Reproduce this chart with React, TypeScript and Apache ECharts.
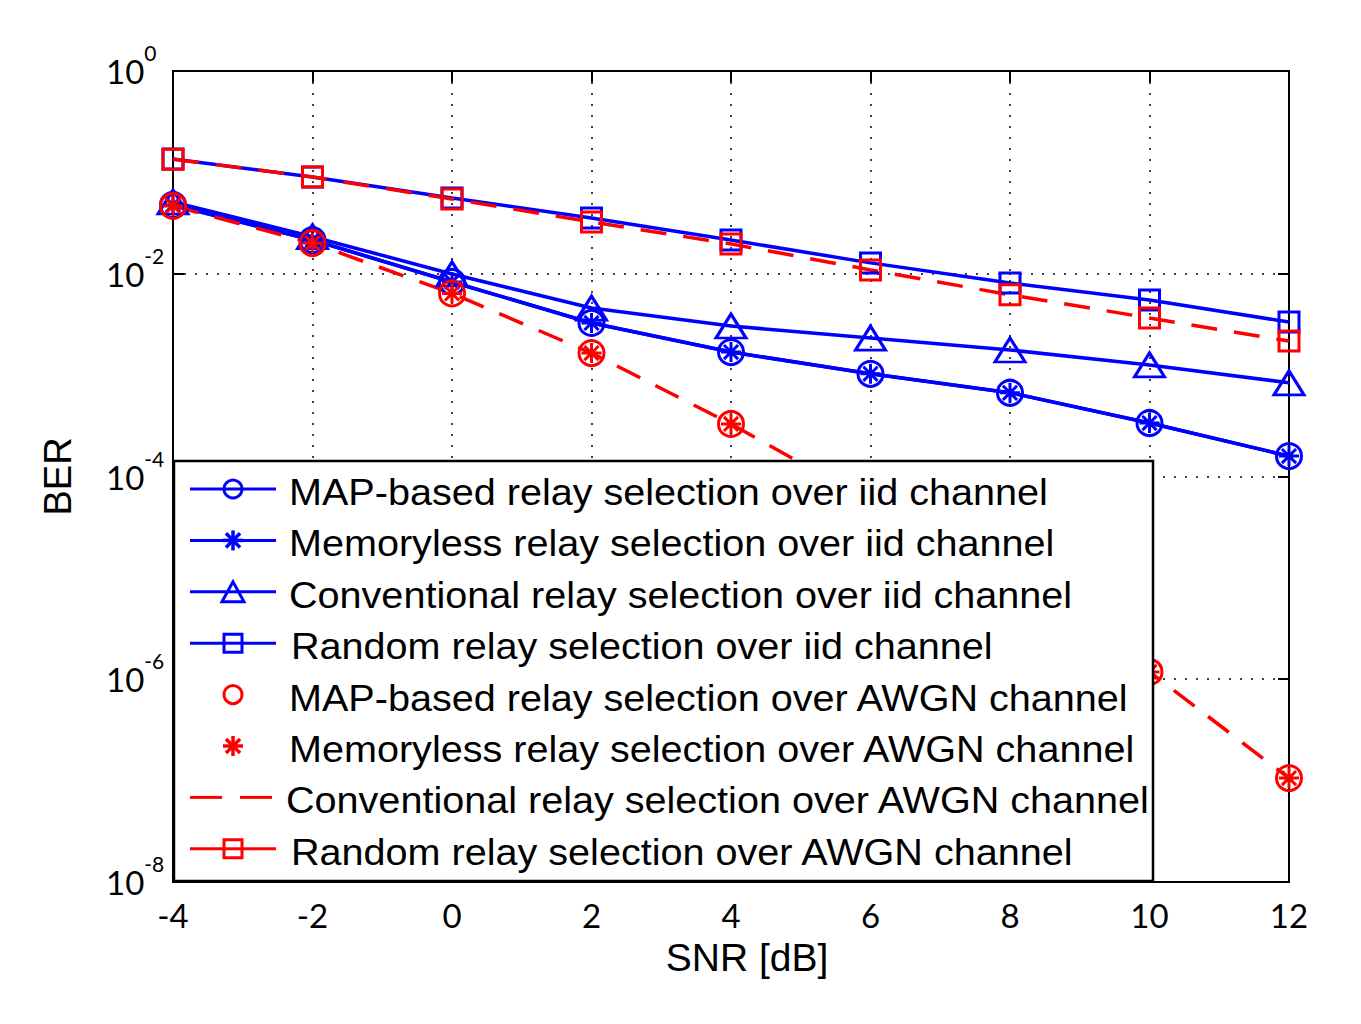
import React, { useEffect, useRef } from "react";
import * as echarts from "echarts";

const snr = [-4, -2, 0, 2, 4, 6, 8, 10, 12];
const xTicks = [-4, -2, 0, 2, 4, 6, 8, 10, 12];
const mapIid = [0.0477, 0.0215, 0.0083, 0.00327, 0.00169, 0.00103, 0.00067, 0.000337, 0.000159];
const memIid = [0.0477, 0.0215, 0.0083, 0.00327, 0.00169, 0.00103, 0.00067, 0.000337, 0.000159];
const convIid = [0.051, 0.0232, 0.00995, 0.00459, 0.00305, 0.00232, 0.00177, 0.00126, 0.00084];
const randIid = [0.1355, 0.09, 0.0559, 0.0355, 0.0215, 0.0128, 0.0081, 0.0055, 0.00334];
const mapAwgn = [0.0466, 0.0201, 0.0064, 0.00165, 0.00033, 0.000056, 0.0000085, 0.00000118, 0.000000106];
const memAwgn = [0.0466, 0.0201, 0.0064, 0.00165, 0.00033, 0.000056, 0.0000085, 0.00000118, 0.000000106];
const convAwgn = [0.0466, 0.0201, 0.0064, 0.00165, 0.00033, 0.000056, 0.0000085, 0.00000118, 0.000000106];
const randAwgn = [0.135, 0.09, 0.0546, 0.0324, 0.0197, 0.0109, 0.0062, 0.00366, 0.00217];

const legendNames = [
  "MAP-based relay selection over iid channel",
  "Memoryless relay selection over iid channel",
  "Conventional relay selection over iid channel",
  "Random relay selection over iid channel",
  "MAP-based relay selection over AWGN channel",
  "Memoryless relay selection over AWGN channel",
  "Conventional relay selection over AWGN channel",
  "Random relay selection over AWGN channel",
];

const BLUE = "#0000ff";
const RED = "#ff0000";
const STAR = "path://M0,-10L0,10M-10,0L10,0M-7.07,-7.07L7.07,7.07M-7.07,7.07L7.07,-7.07";

const pairs = (ys: number[]) => snr.map((x, i) => [x, ys[i]]);

function mkSeries(
  name: string,
  ys: number[],
  color: string,
  symbol: string,
  size: number | number[],
  line: "solid" | "dashed" | "none"
) {
  return {
    name,
    type: "line",
    data: pairs(ys),
    symbol,
    symbolSize: size,
    showSymbol: symbol !== "none",
    symbolKeepAspect: true,
    lineStyle: {
      color,
      width: line === "none" ? 0 : 3.5,
      opacity: line === "none" ? 0 : 1,
      type: line === "dashed" ? [26, 17] : "solid",
    },
    itemStyle: { color: "rgba(0,0,0,0)", borderColor: color, borderWidth: 3 },
    emphasis: { disabled: true },
    silent: true,
  };
}

function legendGraphics() {
  const els: any[] = [];
  els.push({
    type: "rect",
    shape: { x: 174, y: 461, width: 979, height: 420 },
    style: { fill: "#ffffff", stroke: "#000", lineWidth: 2.5 },
    z: 100,
  });
  const rowY = (i: number) => 489 + i * 51.4;
  const colors = [BLUE, BLUE, BLUE, BLUE, RED, RED, RED, RED];
  const marks = ["circle", "star", "triangle", "square", "circle", "star", "dash", "square"];
  const hasLine = [true, true, true, true, false, false, false, true];
  const cx = 233;
  legendNames.forEach((name, i) => {
    const y = rowY(i);
    const c = colors[i];
    if (hasLine[i]) {
      els.push({ type: "line", shape: { x1: 190, y1: y, x2: 276, y2: y }, style: { stroke: c, lineWidth: 3 }, z: 101 });
    }
    const m = marks[i];
    if (m === "circle") {
      els.push({ type: "circle", shape: { cx, cy: y, r: 9 }, style: { fill: "#fff", stroke: c, lineWidth: 3 }, z: 102 });
      if (hasLine[i]) {
        els.push({ type: "line", shape: { x1: cx - 9, y1: y, x2: cx + 9, y2: y }, style: { stroke: c, lineWidth: 3 }, z: 103 });
      }
    } else if (m === "star") {
      const r = 10;
      const d = r * 0.707;
      [
        [0, -r, 0, r],
        [-r, 0, r, 0],
        [-d, -d, d, d],
        [-d, d, d, -d],
      ].forEach(([a, b, e, f]) => {
        els.push({ type: "line", shape: { x1: cx + a, y1: y + b, x2: cx + e, y2: y + f }, style: { stroke: c, lineWidth: 3.5 }, z: 102 });
      });
    } else if (m === "triangle") {
      els.push({
        type: "polygon",
        shape: { points: [[cx, y - 10], [cx - 11, y + 10], [cx + 11, y + 10]] },
        style: { fill: "#fff", stroke: c, lineWidth: 3 },
        z: 102,
      });
      els.push({ type: "line", shape: { x1: cx - 6, y1: y, x2: cx + 6, y2: y }, style: { stroke: c, lineWidth: 3 }, z: 103 });
    } else if (m === "square") {
      els.push({
        type: "rect",
        shape: { x: cx - 9, y: y - 9, width: 18, height: 18 },
        style: { fill: "#fff", stroke: c, lineWidth: 3 },
        z: 102,
      });
      els.push({ type: "line", shape: { x1: cx - 9, y1: y, x2: cx + 9, y2: y }, style: { stroke: c, lineWidth: 3 }, z: 103 });
    } else if (m === "dash") {
      els.push({ type: "line", shape: { x1: 190, y1: y, x2: 222, y2: y }, style: { stroke: c, lineWidth: 3 }, z: 101 });
      els.push({ type: "line", shape: { x1: 240, y1: y, x2: 272, y2: y }, style: { stroke: c, lineWidth: 3 }, z: 101 });
    }
    els.push({
      type: "text",
      x: i === 6 ? 286 : i === 3 || i === 7 ? 291 : 289,
      y: y + 3,
      scaleX: 1.07,
      style: {
        text: name,
        font: '37px "Liberation Sans", Arial, sans-serif',
        fill: "#000",
        verticalAlign: "middle",
        align: "left",
      },
      z: 104,
    });
  });
  return els;
}

export default function App() {
  const ref = useRef<HTMLDivElement>(null);
  useEffect(() => {
    document.body.style.margin = "0";
    if (!ref.current) return;
    const chart = echarts.init(ref.current, undefined, { renderer: "svg" });
    const axisLine = { show: true, onZero: false, lineStyle: { color: "#000", width: 2 } };
    const tick = { show: true, inside: true, length: 11, lineStyle: { color: "#000", width: 2 } };
    const dotted = { show: true, lineStyle: { color: "#000", width: 1.5, type: [2, 9] } };
    chart.setOption({
      animation: false,
      backgroundColor: "#ffffff",
      grid: { left: 173, right: 72, top: 71, bottom: 142, containLabel: false },
      xAxis: [
        {
          type: "value",
          min: -4,
          max: 12,
          interval: 2,
          position: "bottom",
          axisLine,
          axisTick: tick,
          splitLine: dotted,
          axisLabel: {
            color: "#000",
            fontFamily: "Lato, 'Open Sans', sans-serif",
            fontSize: 33,
            margin: 16,
            formatter: (v: number) => (xTicks.includes(v) ? String(v) : ""),
          },
          name: "SNR [dB]",
          nameLocation: "middle",
          nameGap: 56,
          nameTextStyle: {
            color: "#000",
            fontFamily: "'Liberation Sans', Arial, sans-serif",
            fontSize: 39,
            verticalAlign: "top",
            padding: [0, 0, 0, 32],
          },
        },
        {
          type: "value",
          min: -4,
          max: 12,
          interval: 2,
          position: "top",
          axisLine,
          axisTick: tick,
          splitLine: { show: false },
          axisLabel: { show: false },
        },
      ],
      yAxis: [
        {
          type: "log",
          logBase: 100,
          min: 1e-8,
          max: 1,
          splitNumber: 4,
          position: "left",
          axisLine,
          axisTick: tick,
          minorTick: { show: false },
          splitLine: dotted,
          axisLabel: {
            color: "#000",
            align: "left",
            margin: 67,
            formatter: (v: number) => `{b|10}{e|${Math.round(Math.log10(v))}}`,
            rich: {
              b: { fontFamily: "Lato, 'Open Sans', sans-serif", fontSize: 33, lineHeight: 58, color: "#000", verticalAlign: "middle" },
              e: { fontFamily: "Lato, 'Open Sans', sans-serif", fontSize: 21, lineHeight: 22, color: "#000", verticalAlign: "top" },
            },
          },
          name: "BER",
          nameLocation: "middle",
          nameGap: 96,
          nameRotate: 90,
          nameTextStyle: { color: "#000", fontFamily: "'Liberation Sans', Arial, sans-serif", fontSize: 38 },
        },
        {
          type: "log",
          logBase: 100,
          min: 1e-8,
          max: 1,
          splitNumber: 4,
          position: "right",
          axisLine,
          axisTick: tick,
          splitLine: { show: false },
          axisLabel: { show: false },
        },
      ],
      legend: { show: false },
      series: [
        mkSeries(legendNames[0], mapIid, BLUE, "circle", 25, "solid"),
        mkSeries(legendNames[1], memIid, BLUE, STAR, 20, "solid"),
        mkSeries(legendNames[2], convIid, BLUE, "triangle", [30, 24], "solid"),
        mkSeries(legendNames[3], randIid, BLUE, "rect", 20, "solid"),
        mkSeries(legendNames[4], mapAwgn, RED, "circle", 25, "none"),
        mkSeries(legendNames[5], memAwgn, RED, STAR, 20, "none"),
        mkSeries(legendNames[6], convAwgn, RED, "none", 1, "dashed"),
        mkSeries(legendNames[7], randAwgn, RED, "rect", 20, "dashed"),
      ],
      graphic: legendGraphics(),
    });
    return () => chart.dispose();
  }, []);
  return <div ref={ref} style={{ width: 1361, height: 1024, position: "absolute", left: 0, top: 0 }} />;
}
